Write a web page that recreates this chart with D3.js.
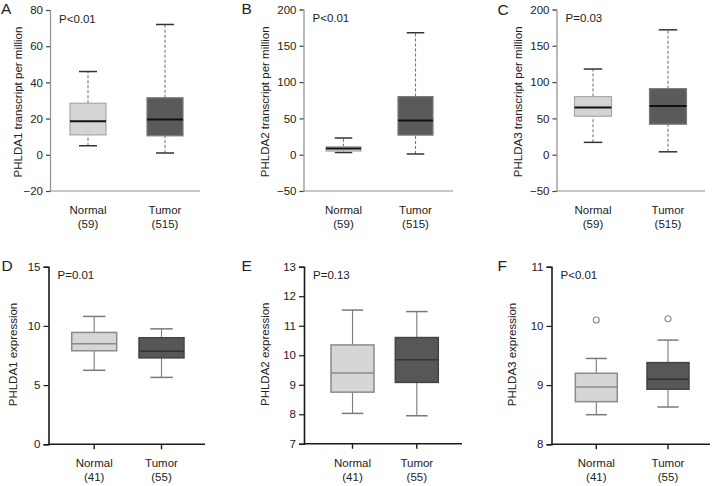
<!DOCTYPE html>
<html><head><meta charset="utf-8">
<script src="https://cdn.jsdelivr.net/npm/d3@7"></script>
<style>
body{margin:0;background:#fff;}
text{font-family:"Liberation Sans",Arial,Helvetica,sans-serif;fill:#222;}
</style></head>
<body><svg id="chart" width="713" height="486"></svg>
<script>
// ---------- data ----------
const categories = ["Normal", "Tumor"];
const countsTCGA = ["(59)", "(515)"];
const countsGEO = ["(41)", "(55)"];
const panelLetters = ["A", "B", "C", "D", "E", "F"];
const yTitles = [
  "PHLDA1 transcript per million",
  "PHLDA2 transcript per million",
  "PHLDA3 transcript per million",
  "PHLDA1 expression",
  "PHLDA2 expression",
  "PHLDA3 expression"
];
const pTexts = ["P<0.01", "P<0.01", "P=0.03", "P=0.01", "P=0.13", "P<0.01"];
const yTicksA = [-20, 0, 20, 40, 60, 80];
const yTicksB = [-50, 0, 50, 100, 150, 200];
const yTicksC = [-50, 0, 50, 100, 150, 200];
const yTicksD = [0, 5, 10, 15];
const yTicksE = [7, 8, 9, 10, 11, 12, 13];
const yTicksF = [8, 9, 10, 11];
// five-number summaries: [lower whisker, Q1, median, Q3, upper whisker] for Normal, Tumor
const statsA = [[5, 11, 18.5, 28.5, 46], [1, 10.5, 19.5, 31.5, 72]];
const statsB = [[3, 5, 8.5, 11, 23], [1, 27, 47, 80, 168]];
const statsC = [[17, 53, 65, 80, 118], [4, 42, 67, 91, 172]];
const statsD = [[6.25, 7.9, 8.5, 9.45, 10.8], [5.65, 7.3, 7.85, 9.0, 9.75]];
const statsE = [[8.03, 8.75, 9.4, 10.35, 11.53], [7.95, 9.08, 9.85, 10.6, 11.48]];
const statsF = [[8.5, 8.72, 8.97, 9.2, 9.45], [8.63, 8.93, 9.1, 9.38, 9.76]];
const outliersF = [[10.1], [10.12]];

// ---------- layout / style ----------
const panels = [
  {ticks: yTicksA, stats: statsA, out: null, counts: countsTCGA, row: 0,
   left: 50, right: 200, top: 10, bottom: 191, c: [88, 165], bw: 36, titleX: 17.5, letterX: 1, letterY: 14},
  {ticks: yTicksB, stats: statsB, out: null, counts: countsTCGA, row: 0,
   left: 303.5, right: 453, top: 9.5, bottom: 191, c: [343.5, 415.5], bw: 35, titleX: 265, letterX: 241.5, letterY: 14},
  {ticks: yTicksC, stats: statsC, out: null, counts: countsTCGA, row: 0,
   left: 556.5, right: 705, top: 9.5, bottom: 191, c: [593, 668], bw: 37, titleX: 518, letterX: 497.5, letterY: 15},
  {ticks: yTicksD, stats: statsD, out: null, counts: countsGEO, row: 1,
   left: 48.5, right: 205, top: 266.7, bottom: 444.3, c: [94.2, 161.5], bw: 45, titleX: 12.5, letterX: 1.5, letterY: 271},
  {ticks: yTicksE, stats: statsE, out: null, counts: countsGEO, row: 1,
   left: 304, right: 462, top: 266.7, bottom: 443.8, c: [352.5, 416.8], bw: 43, titleX: 265, letterX: 241.5, letterY: 271},
  {ticks: yTicksF, stats: statsF, out: outliersF, counts: countsGEO, row: 1,
   left: 551.5, right: 710, top: 266.7, bottom: 444.3, c: [596.3, 668], bw: 42, titleX: 512, letterX: 497.5, letterY: 271}
];

const styles = [
  { // top row (TCGA style)
    axis: "#8f8f8f", axisW: 1.2, tickCol: "#444",
    light: "#d4d4d4", lightStroke: "#a8a8a8", lightMed: "#111",
    dark: "#5a5a5a", darkStroke: "#7a7a7a", darkMed: "#111", medW: 2,
    whisk: "#777", whiskDash: "3,2", cap: "#333", boxW: 1.2
  },
  { // bottom row (GEO style)
    axis: "#1a1a1a", axisW: 1.6, tickCol: "#1a1a1a",
    light: "#d6d6d6", lightStroke: "#8a8a8a", lightMed: "#8a8a8a",
    dark: "#575757", darkStroke: "#444", darkMed: "#333", medW: 1.5,
    whisk: "#7a7a7a", whiskDash: null, cap: "#7a7a7a", boxW: 1.5
  }
];

const svg = d3.select("#chart");

panels.forEach((p, i) => {
  const st = styles[p.row];
  const g = svg.append("g");
  const ext = d3.extent(p.ticks);
  const y = d3.scaleLinear().domain(ext).range([p.bottom, p.top]);
  const x = d3.scaleOrdinal().domain(categories).range(p.c);

  // y axis
  const ya = g.append("g").attr("transform", `translate(${p.left},0)`)
    .call(d3.axisLeft(y).tickValues(p.ticks).tickFormat(d3.format("")).tickSizeOuter(0)
      .tickSize(p.row === 0 ? 4 : 5).tickPadding(3));
  ya.select(".domain").attr("stroke", st.axis).attr("stroke-width", st.axisW);
  ya.selectAll(".tick line").attr("stroke", st.tickCol).attr("stroke-width", 1.2);
  ya.selectAll(".tick text").attr("font-size", "11.5px").attr("fill", "#222")
    .style("font-family", '"Liberation Sans",Arial,sans-serif');

  // x axis line
  g.append("line").attr("x1", p.left).attr("x2", p.right)
    .attr("y1", p.bottom).attr("y2", p.bottom)
    .attr("stroke", st.axis).attr("stroke-width", st.axisW);
  if (p.row === 1) {
    g.selectAll(".xt").data(categories).enter().append("line")
      .attr("x1", d => x(d)).attr("x2", d => x(d))
      .attr("y1", p.bottom).attr("y2", p.bottom + 5)
      .attr("stroke", st.axis).attr("stroke-width", 1.4);
  }

  // category labels
  g.selectAll(".cl").data(categories).enter().append("text")
    .attr("x", d => x(d)).attr("y", p.bottom + 23)
    .attr("text-anchor", "middle").attr("font-size", "11.5px").text(d => d);
  g.selectAll(".cn").data(p.counts).enter().append("text")
    .attr("x", (d, j) => x(categories[j])).attr("y", p.bottom + 37)
    .attr("text-anchor", "middle").attr("font-size", "11.5px").text(d => d);

  // y title
  g.append("text")
    .attr("transform", `translate(${p.titleX + 4},${(p.top + p.bottom) / 2 + (p.row === 0 ? 1.5 : -1)}) rotate(-90)`)
    .attr("text-anchor", "middle").attr("font-size", "11.5px").text(yTitles[i]);

  // p text
  g.append("text").attr("x", p.left + 9).attr("y", p.top + 12.5)
    .attr("font-size", "11.5px").text(pTexts[i]);

  // panel letter
  g.append("text").attr("x", p.letterX).attr("y", p.letterY)
    .attr("font-size", "15.5px").text(panelLetters[i]);

  // boxes
  p.stats.forEach((s, j) => {
    const cx = x(categories[j]);
    const bw = p.bw, cw = bw / 2;
    const light = j === 0;
    // whiskers
    [[s[0], s[1]], [s[3], s[4]]].forEach(([a, b]) => {
      g.append("line").attr("x1", cx).attr("x2", cx)
        .attr("y1", y(a)).attr("y2", y(b))
        .attr("stroke", st.whisk).attr("stroke-width", 1.1)
        .attr("stroke-dasharray", st.whiskDash);
    });
    [s[0], s[4]].forEach(v => {
      g.append("line").attr("x1", cx - cw / 2).attr("x2", cx + cw / 2)
        .attr("y1", y(v)).attr("y2", y(v))
        .attr("stroke", st.cap).attr("stroke-width", 1.5);
    });
    // box
    g.append("rect").attr("x", cx - bw / 2).attr("width", bw)
      .attr("y", y(s[3])).attr("height", y(s[1]) - y(s[3]))
      .attr("fill", light ? st.light : st.dark)
      .attr("stroke", light ? st.lightStroke : st.darkStroke)
      .attr("stroke-width", st.boxW);
    // median
    g.append("line").attr("x1", cx - bw / 2).attr("x2", cx + bw / 2)
      .attr("y1", y(s[2])).attr("y2", y(s[2]))
      .attr("stroke", light ? st.lightMed : st.darkMed)
      .attr("stroke-width", st.medW);
    // outliers
    if (p.out) {
      p.out[j].forEach(v => {
        g.append("circle").attr("cx", cx).attr("cy", y(v)).attr("r", 3)
          .attr("fill", "none").attr("stroke", "#888").attr("stroke-width", 1.1);
      });
    }
  });
});
</script></body></html>
